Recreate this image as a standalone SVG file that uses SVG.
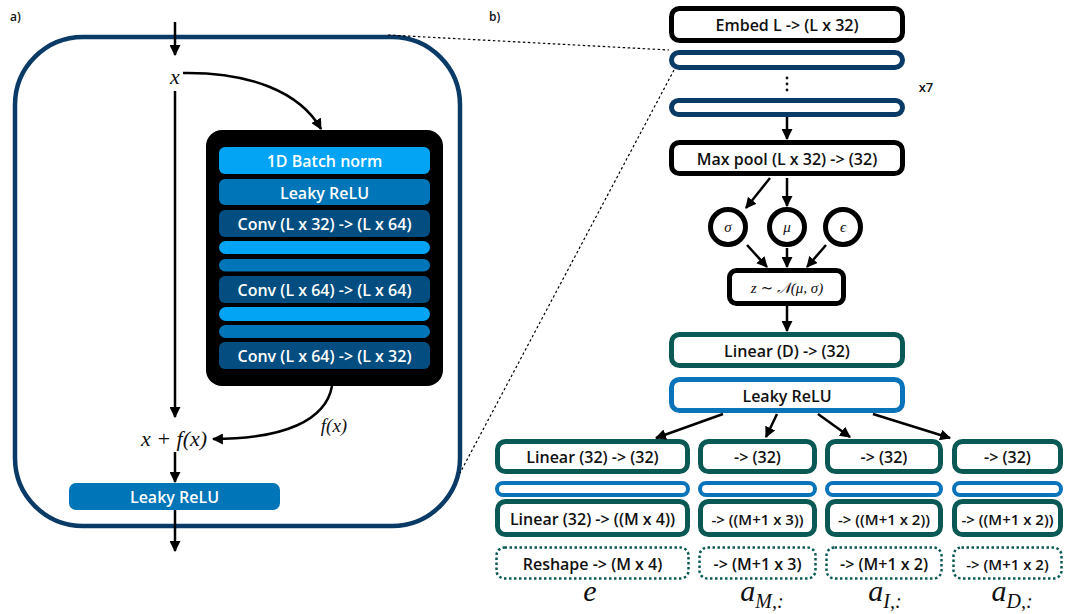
<svg xmlns="http://www.w3.org/2000/svg" width="1065" height="614" viewBox="0 0 1065 614">
<style>
.lbl{font-family:"Open Sans","Liberation Sans",sans-serif;font-weight:600;font-size:16px;fill:#111;text-anchor:middle;dominant-baseline:central}
.sm{font-size:15px}
.wt{fill:#fff}
.math{font-family:"Liberation Serif","DejaVu Serif",serif;font-style:italic;fill:#111;text-anchor:middle}
.bx{fill:#fff;stroke:#000;stroke-width:5}
.navy{fill:#fff;stroke:#0a3a66;stroke-width:5}
.teal{fill:#fff;stroke:#0b5955;stroke-width:5}
.blue{fill:#fff;stroke:#0a74bb;stroke-width:5}
.bluep{fill:#fff;stroke:#0a74bb;stroke-width:4}
.dot{fill:#fff;stroke:#0b5955;stroke-width:2.5;stroke-dasharray:2.5 2.5}
.arr{fill:none;stroke:#000;stroke-width:2.5;marker-end:url(#ah)}
.zoomln{fill:none;stroke:#000;stroke-width:1.2;stroke-dasharray:2.5 2.5}
.c1{fill:#03a4f4}.c2{fill:#0075b8}.c3{fill:#034d80}
</style>
<defs>
<marker id="ah" viewBox="0 0 10 10" refX="9" refY="5" markerWidth="11" markerHeight="11" markerUnits="userSpaceOnUse" orient="auto">
<path d="M0,0 L10,5 L0,10 z" fill="#000"/>
</marker>
</defs>
<rect width="1065" height="614" fill="#fff"/>

<text x="10" y="21" class="lbl" style="text-anchor:start;font-size:12px;dominant-baseline:auto">a)</text>
<text x="489" y="21" class="lbl" style="text-anchor:start;font-size:12px;dominant-baseline:auto">b)</text>

<!-- Left panel: residual block -->
<g id="resblock">
<rect x="15" y="37" width="445" height="489" rx="68" fill="none" stroke="#0a3a66" stroke-width="4.5"/>
</g>
<g id="x-label"><text x="175" y="84" class="math" font-size="22">x</text></g>
<g id="fblock">
<rect x="206" y="130" width="237" height="256" rx="16" fill="#000"/>
<rect x="219" y="147" width="211" height="27" rx="6" class="c1"/>
<text x="324.5" y="161" class="lbl wt">1D Batch norm</text>
<rect x="219" y="179" width="211" height="26" rx="6" class="c2"/>
<text x="324.5" y="192.5" class="lbl wt">Leaky ReLU</text>
<rect x="219" y="210" width="211" height="27" rx="6" class="c3"/>
<text x="324.5" y="224" class="lbl wt">Conv (L x 32) -&gt; (L x 64)</text>
<rect x="219" y="241" width="211" height="13" rx="6.5" class="c1"/>
<rect x="219" y="259" width="211" height="12.5" rx="6.25" class="c2"/>
<rect x="219" y="276" width="211" height="27" rx="6" class="c3"/>
<text x="324.5" y="290" class="lbl wt">Conv (L x 64) -&gt; (L x 64)</text>
<rect x="219" y="307" width="211" height="14" rx="7" class="c1"/>
<rect x="219" y="325" width="211" height="13" rx="6.5" class="c2"/>
<rect x="219" y="342" width="211" height="27" rx="6" class="c3"/>
<text x="324.5" y="356" class="lbl wt">Conv (L x 64) -&gt; (L x 32)</text>
</g>
<g id="sum-label"><text x="174" y="446" class="math" font-size="22">x + f(x)</text></g>
<g id="fx-label"><text x="334" y="432" class="math" font-size="19">f(x)</text></g>
<g id="leaky-left">
<rect x="69" y="483" width="211" height="27" rx="7" class="c2"/>
<text x="174.5" y="497" class="lbl wt">Leaky ReLU</text>
</g>

<!-- Right panel -->
<g id="embed"><rect x="671.5" y="8.5" width="231" height="32" rx="8" class="bx"/><text x="787" y="25" class="lbl">Embed L -&gt; (L x 32)</text></g>
<g id="res1"><rect x="671.5" y="52.5" width="231" height="15" rx="7.5" class="navy"/></g>
<g id="vdots"><circle cx="787" cy="78" r="1.4" fill="#111"/><circle cx="787" cy="84" r="1.4" fill="#111"/><circle cx="787" cy="90" r="1.4" fill="#111"/></g>
<g id="x7"><text x="926" y="87" class="lbl" style="font-size:13px">x7</text></g>
<g id="res7"><rect x="671.5" y="100.5" width="231" height="14" rx="7" class="navy"/></g>
<g id="maxpool"><rect x="671.5" y="142.5" width="231" height="31" rx="8" class="bx"/><text x="787" y="158.5" class="lbl">Max pool (L x 32) -&gt; (32)</text></g>
<g id="sigma"><circle cx="728" cy="227" r="17.5" class="bx"/><text x="728" y="232" class="math" font-size="15">σ</text></g>
<g id="mu"><circle cx="787" cy="227" r="17.5" class="bx"/><text x="787" y="232" class="math" font-size="15">μ</text></g>
<g id="eps"><circle cx="843" cy="227" r="17.5" class="bx"/><text x="843" y="232" class="math" font-size="15">ϵ</text></g>
<g id="zsample"><rect x="729.5" y="270.5" width="114" height="33" rx="7" class="bx"/><text x="787" y="293" class="math" font-size="15">z ∼ 𝒩(μ, σ)</text></g>
<g id="linearD"><rect x="671.5" y="334.5" width="231" height="31" rx="8" class="teal"/><text x="787" y="350.5" class="lbl">Linear (D) -&gt; (32)</text></g>
<g id="leakyR"><rect x="671.5" y="379.5" width="231" height="31" rx="8" class="blue"/><text x="787" y="395.5" class="lbl">Leaky ReLU</text></g>

<g id="col-e">
<rect x="497.5" y="441.5" width="190" height="30" rx="8" class="teal"/><text x="592.5" y="457" class="lbl">Linear (32) -&gt; (32)</text>
<rect x="497" y="483" width="191" height="12" rx="6" class="bluep"/>
<rect x="497.5" y="501.5" width="190" height="33" rx="8" class="teal"/><text x="592.5" y="518.5" class="lbl">Linear (32) -&gt; ((M x 4))</text>
<rect x="496.5" y="547.5" width="192" height="31" rx="8" class="dot"/><text x="592.5" y="563.5" class="lbl">Reshape -&gt; (M x 4)</text>
<text x="590" y="601" class="math" font-size="30">e</text>
</g>
<g id="col-aM">
<rect x="700.5" y="441.5" width="114" height="30" rx="8" class="teal"/><text x="757.5" y="457" class="lbl">-&gt; (32)</text>
<rect x="700" y="483" width="115" height="12" rx="6" class="bluep"/>
<rect x="700.5" y="501.5" width="114" height="33" rx="8" class="teal"/><text x="757.5" y="518.5" class="lbl sm">-&gt; ((M+1 x 3))</text>
<rect x="699.5" y="547.5" width="116" height="31" rx="8" class="dot"/><text x="757.5" y="563.5" class="lbl">-&gt; (M+1 x 3)</text>
<text x="762" y="601" class="math" font-size="30">a<tspan font-size="20" dy="7">M,:</tspan></text>
</g>
<g id="col-aI">
<rect x="827.5" y="441.5" width="113" height="30" rx="8" class="teal"/><text x="884" y="457" class="lbl">-&gt; (32)</text>
<rect x="827" y="483" width="114" height="12" rx="6" class="bluep"/>
<rect x="827.5" y="501.5" width="113" height="33" rx="8" class="teal"/><text x="884" y="518.5" class="lbl sm">-&gt; ((M+1 x 2))</text>
<rect x="826.5" y="547.5" width="115" height="31" rx="8" class="dot"/><text x="884" y="563.5" class="lbl">-&gt; (M+1 x 2)</text>
<text x="885" y="601" class="math" font-size="30">a<tspan font-size="20" dy="7">I,:</tspan></text>
</g>
<g id="col-aD">
<rect x="954.5" y="441.5" width="106" height="30" rx="8" class="teal"/><text x="1007.5" y="457" class="lbl">-&gt; (32)</text>
<rect x="954" y="483" width="107" height="12" rx="6" class="bluep"/>
<rect x="954.5" y="501.5" width="106" height="33" rx="8" class="teal"/><text x="1007.5" y="518.5" class="lbl sm">-&gt; ((M+1 x 2))</text>
<rect x="953.5" y="547.5" width="108" height="31" rx="8" class="dot"/><text x="1007.5" y="563.5" class="lbl sm">-&gt; (M+1 x 2)</text>
<text x="1012" y="601" class="math" font-size="30">a<tspan font-size="20" dy="7">D,:</tspan></text>
</g>

<g id="connectors">
<path class="arr" d="M175,22 L175,55"/>
<path class="arr" d="M175,91 L175,417"/>
<path class="arr" d="M183,73 C250,72 300,92 321,129"/>
<path class="arr" d="M332,386 C326,420 285,439 213,439"/>
<path class="arr" d="M175,452 L175,482"/>
<path class="arr" d="M175,510 L175,551"/>
<path class="arr" d="M787,117 L787,139"/>
<path class="arr" d="M770,178 L746,208"/>
<path class="arr" d="M787,178 L787,206"/>
<path class="arr" d="M747,245 L767,267"/>
<path class="arr" d="M787,248 L787,267"/>
<path class="arr" d="M826,245 L807,267"/>
<path class="arr" d="M787,306 L787,331"/>
<path class="arr" d="M723,414 L656,438"/>
<path class="arr" d="M777,414 L766,437"/>
<path class="arr" d="M818,414 L850,437"/>
<path class="arr" d="M873,414 L950,438"/>
<path class="zoomln" d="M388,35 L669,50"/>
<path class="zoomln" d="M674,70 L460,473"/>
</g>
</svg>
